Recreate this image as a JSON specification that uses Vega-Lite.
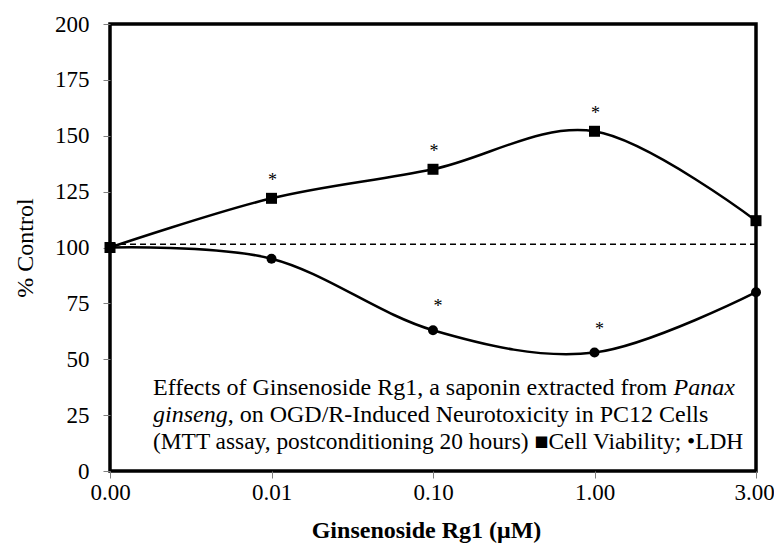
{
  "$schema": "https://vega.github.io/schema/vega-lite/v6.json",
  "width": 646,
  "height": 447,
  "autosize": "none",
  "padding": {"left": 110, "top": 24, "right": 18, "bottom": 83},
  "background": "white",
  "config": {
    "font": "Liberation Serif",
    "view": {"stroke": "black", "strokeWidth": 3.5},
    "axis": {
      "domain": false,
      "grid": false,
      "labelFont": "Liberation Serif",
      "labelFontSize": 23,
      "labelColor": "black",
      "tickColor": "#7f7f7f",
      "tickSize": 7,
      "tickWidth": 1,
      "titleFont": "Liberation Serif",
      "titleColor": "black",
      "titleFontSize": 24
    }
  },
  "datasets": {
    "series": [
      {"dose": "0.00", "series": "Cell Viability", "value": 100, "sig": false},
      {"dose": "0.01", "series": "Cell Viability", "value": 122, "sig": true},
      {"dose": "0.10", "series": "Cell Viability", "value": 135, "sig": true},
      {"dose": "1.00", "series": "Cell Viability", "value": 152, "sig": true},
      {"dose": "3.00", "series": "Cell Viability", "value": 112, "sig": false},
      {"dose": "0.00", "series": "LDH", "value": 100, "sig": false},
      {"dose": "0.01", "series": "LDH", "value": 95, "sig": false},
      {"dose": "0.10", "series": "LDH", "value": 63, "sig": true},
      {"dose": "1.00", "series": "LDH", "value": 53, "sig": true},
      {"dose": "3.00", "series": "LDH", "value": 80, "sig": false}
    ],
    "notes": [
      {"line": 1, "part": "a", "dose": "0.00", "value": 34, "text": "Effects of Ginsenoside Rg1, a saponin extracted from"},
      {"line": 1, "part": "b", "dose": "0.00", "value": 34, "text": "Panax"},
      {"line": 2, "part": "a", "dose": "0.00", "value": 21.9, "text": "ginseng"},
      {"line": 2, "part": "b", "dose": "0.00", "value": 21.9, "text": ", on OGD/R-Induced Neurotoxicity in PC12 Cells"},
      {"line": 3, "part": "a", "dose": "0.00", "value": 9.8, "text": "(MTT assay, postconditioning 20 hours) ■Cell Viability; •LDH"}
    ],
    "baseline": [{"value": 101.5}]
  },
  "layer": [
    {
      "data": {"name": "baseline"},
      "mark": {"type": "rule", "strokeDash": [6, 4], "strokeWidth": 1.5, "color": "black"},
      "encoding": {"y": {"field": "value", "type": "quantitative"}}
    },
    {
      "data": {"name": "series"},
      "mark": {"type": "line", "interpolate": "cardinal", "tension": 0, "color": "black", "strokeWidth": 2.5, "clip": false},
      "encoding": {
        "x": {
          "field": "dose",
          "type": "ordinal",
          "sort": ["0.00", "0.01", "0.10", "1.00", "3.00"],
          "scale": {"type": "point", "padding": 0, "domain": ["0.00", "0.01", "0.10", "1.00", "3.00"]},
          "axis": {
            "title": "Ginsenoside Rg1 (μM)",
            "titleFontWeight": "bold",
            "labelAngle": 0,
            "labelPadding": 3,
            "titlePadding": 14,
            "titleX": 316,
            "labelOffset": {"condition": {"test": "datum.value === '3.00'", "value": -2}, "value": 0}
          }
        },
        "y": {
          "field": "value",
          "type": "quantitative",
          "scale": {"domain": [0, 200], "nice": false, "zero": true},
          "axis": {"title": "% Control", "titleFontWeight": "normal", "values": [0, 25, 50, 75, 100, 125, 150, 175, 200], "labelPadding": 14, "titlePadding": 17}
        },
        "detail": {"field": "series"}
      }
    },
    {
      "data": {"name": "series"},
      "mark": {"type": "point", "filled": true, "opacity": 1, "color": "black", "clip": false},
      "encoding": {
        "x": {"field": "dose", "type": "ordinal"},
        "y": {"field": "value", "type": "quantitative"},
        "shape": {"field": "series", "scale": {"domain": ["Cell Viability", "LDH"], "range": ["square", "circle"]}, "legend": null},
        "size": {"field": "series", "type": "nominal", "scale": {"domain": ["Cell Viability", "LDH"], "range": [121, 100]}, "legend": null}
      }
    },
    {
      "data": {"name": "series"},
      "transform": [{"filter": "datum.sig && datum.series === 'Cell Viability'"}],
      "mark": {"type": "text", "text": "*", "fontSize": 18, "dy": -12, "dx": 1, "baseline": "alphabetic", "color": "black"},
      "encoding": {"x": {"field": "dose", "type": "ordinal"}, "y": {"field": "value", "type": "quantitative"}}
    },
    {
      "data": {"name": "series"},
      "transform": [{"filter": "datum.sig && datum.series === 'LDH'"}],
      "mark": {"type": "text", "text": "*", "fontSize": 18, "dy": -18, "dx": 5, "baseline": "alphabetic", "color": "black"},
      "encoding": {"x": {"field": "dose", "type": "ordinal"}, "y": {"field": "value", "type": "quantitative"}}
    },
    {
      "data": {"name": "notes"},
      "transform": [{"filter": "datum.line === 1 && datum.part === 'a'"}],
      "mark": {"type": "text", "fontSize": 24, "align": "left", "baseline": "alphabetic", "dx": 43, "color": "black"},
      "encoding": {"x": {"field": "dose", "type": "ordinal"}, "y": {"field": "value", "type": "quantitative"}, "text": {"field": "text"}}
    },
    {
      "data": {"name": "notes"},
      "transform": [{"filter": "datum.line === 3"}],
      "mark": {"type": "text", "fontSize": 23.4, "align": "left", "baseline": "alphabetic", "dx": 43, "color": "black"},
      "encoding": {"x": {"field": "dose", "type": "ordinal"}, "y": {"field": "value", "type": "quantitative"}, "text": {"field": "text"}}
    },
    {
      "data": {"name": "notes"},
      "transform": [{"filter": "datum.line === 1 && datum.part === 'b'"}],
      "mark": {"type": "text", "fontSize": 24, "fontStyle": "italic", "align": "left", "baseline": "alphabetic", "dx": 563.6, "color": "black"},
      "encoding": {"x": {"field": "dose", "type": "ordinal"}, "y": {"field": "value", "type": "quantitative"}, "text": {"field": "text"}}
    },
    {
      "data": {"name": "notes"},
      "transform": [{"filter": "datum.line === 2 && datum.part === 'a'"}],
      "mark": {"type": "text", "fontSize": 24, "fontStyle": "italic", "align": "left", "baseline": "alphabetic", "dx": 43, "color": "black"},
      "encoding": {"x": {"field": "dose", "type": "ordinal"}, "y": {"field": "value", "type": "quantitative"}, "text": {"field": "text"}}
    },
    {
      "data": {"name": "notes"},
      "transform": [{"filter": "datum.line === 2 && datum.part === 'b'"}],
      "mark": {"type": "text", "fontSize": 24, "align": "left", "baseline": "alphabetic", "dx": 117.7, "color": "black"},
      "encoding": {"x": {"field": "dose", "type": "ordinal"}, "y": {"field": "value", "type": "quantitative"}, "text": {"field": "text"}}
    }
  ]
}
